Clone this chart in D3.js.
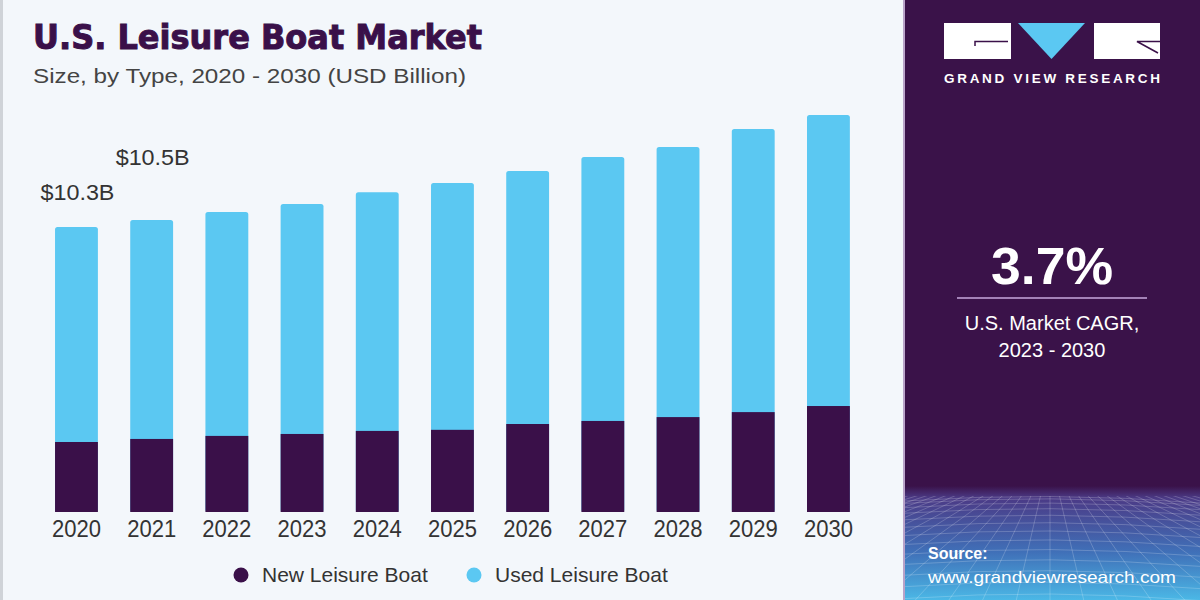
<!DOCTYPE html>
<html>
<head>
<meta charset="utf-8">
<script src="https://cdn.jsdelivr.net/npm/d3@7"></script>
<style>
  html, body { margin: 0; padding: 0; background: #f3f7fb; }
  svg { display: block; font-family: "Liberation Sans", Arial, sans-serif; }
</style>
</head>
<body>
<div id="chart"></div>
<script>
// values (USD billion)
const years = ['2020', '2021', '2022', '2023', '2024', '2025', '2026', '2027', '2028', '2029', '2030'];
const newBoat = [2.53, 2.64, 2.75, 2.82, 2.93, 2.97, 3.18, 3.29, 3.43, 3.61, 3.83];
const usedBoat = [7.77, 7.91, 8.09, 8.31, 8.63, 8.92, 9.14, 9.54, 9.76, 10.23, 10.52];
const seriesNames = ['New Leisure Boat', 'Used Leisure Boat'];
const callouts = [{ year: '2020', text: '$10.3B', lift: 27 }, { year: '2021', text: '$10.5B', lift: 55 }];

const width = 1200, height = 600;
const dark = '#3a1049', light = '#5bc8f2';

const svg = d3.select('#chart').append('svg')
  .attr('width', width)
  .attr('height', height);

svg.append('rect').attr('width', width).attr('height', height).attr('fill', '#f3f7fb');
svg.append('rect').attr('x', 0).attr('y', 0).attr('width', 3).attr('height', height).attr('fill', '#cfd3d8');

// title block
svg.append('text')
  .attr('x', 33).attr('y', 49)
  .attr('font-family', '"DejaVu Sans", sans-serif')
  .attr('font-weight', 'bold')
  .attr('font-size', 33)
  .attr('fill', dark)
  .attr('stroke', dark)
  .attr('stroke-width', 1)
  .attr('textLength', 449)
  .attr('lengthAdjust', 'spacingAndGlyphs')
  .text('U.S. Leisure Boat Market');

svg.append('text')
  .attr('x', 33).attr('y', 83)
  .attr('font-size', 21)
  .attr('fill', '#444')
  .attr('textLength', 433)
  .attr('lengthAdjust', 'spacingAndGlyphs')
  .text('Size, by Type, 2020 - 2030 (USD Billion)');

// scales
const x = d3.scaleBand()
  .domain(years)
  .range([22.7, 882.2])
  .paddingInner(0.43)
  .paddingOuter(0.43);

const y = d3.scaleLinear()
  .domain([0, 15])
  .range([512, 512 - 15 * 27.67]);

const rows = years.map((yr, i) => ({ year: yr, n: newBoat[i], u: usedBoat[i], total: newBoat[i] + usedBoat[i] }));

// used portion (drawn down to baseline, new portion covers it)
svg.append('g').selectAll('rect')
  .data(rows)
  .join('rect')
  .attr('x', d => x(d.year))
  .attr('y', d => y(d.total))
  .attr('width', x.bandwidth())
  .attr('height', d => y(0) - y(d.total))
  .attr('rx', 2.5)
  .attr('fill', light);

svg.append('g').selectAll('rect')
  .data(rows)
  .join('rect')
  .attr('x', d => x(d.year))
  .attr('y', d => y(d.n))
  .attr('width', x.bandwidth())
  .attr('height', d => y(0) - y(d.n))
  .attr('fill', dark);

// callouts
svg.append('g').selectAll('text')
  .data(callouts)
  .join('text')
  .attr('x', d => x(d.year) + x.bandwidth() / 2 + 1)
  .attr('y', d => y(rows.find(r => r.year === d.year).total) - d.lift)
  .attr('text-anchor', 'middle')
  .attr('font-size', 22)
  .attr('fill', '#333')
  .attr('textLength', 74)
  .attr('lengthAdjust', 'spacingAndGlyphs')
  .text(d => d.text);

// x axis
const xAxis = svg.append('g')
  .attr('transform', `translate(0,${y(0)})`)
  .call(d3.axisBottom(x).tickSize(0).tickPadding(8));
xAxis.select('.domain').remove();
xAxis.selectAll('text')
  .attr('font-size', 24)
  .attr('fill', '#333')
  .attr('textLength', 49)
  .attr('lengthAdjust', 'spacingAndGlyphs');

// legend
const legend = svg.append('g').attr('transform', 'translate(0,575)');
const legendX = [241, 474];
seriesNames.forEach((name, i) => {
  legend.append('circle')
    .attr('cx', legendX[i]).attr('cy', 0).attr('r', 7.5)
    .attr('fill', i === 0 ? dark : light);
  legend.append('text')
    .attr('x', legendX[i] + 21).attr('y', 7)
    .attr('font-size', 21)
    .attr('fill', '#333')
    .text(name);
});

// right panel
const panelX = 905;
const defs = svg.append('defs');
const grad = defs.append('linearGradient')
  .attr('id', 'panelGrad').attr('x1', 0).attr('y1', 0).attr('x2', 0).attr('y2', 1);
grad.append('stop').attr('offset', '0%').attr('stop-color', '#3a1249');
grad.append('stop').attr('offset', '81%').attr('stop-color', '#3a1249');
grad.append('stop').attr('offset', '83%').attr('stop-color', '#4b3a86');
grad.append('stop').attr('offset', '92%').attr('stop-color', '#4070b8');
grad.append('stop').attr('offset', '100%').attr('stop-color', '#4bb8e6');

svg.append('rect')
  .attr('x', panelX).attr('y', 0)
  .attr('width', width - panelX).attr('height', height)
  .attr('fill', 'url(#panelGrad)');
svg.append('rect')
  .attr('x', panelX - 2).attr('y', 0).attr('width', 2).attr('height', height)
  .attr('fill', '#b9a3c9');

// perspective grid in the lower part of the panel
defs.append('clipPath').attr('id', 'gridClip')
  .append('rect').attr('x', panelX).attr('y', 496).attr('width', width - panelX).attr('height', 104);
const grid = svg.append('g').attr('clip-path', 'url(#gridClip)')
  .attr('stroke', '#ffffff').attr('stroke-opacity', 0.25).attr('stroke-width', 0.8).attr('fill', 'none');
d3.range(0, 14).forEach(k => {
  const gy = 497 + Math.pow(k / 13, 1.5) * 110;
  grid.append('path').attr('d', `M${panelX},${gy + 4} Q1050,${gy - 6} ${width},${gy + 6}`);
});
d3.range(-24, 25).forEach(k => {
  grid.append('line')
    .attr('x1', 1050 + k * 7).attr('y1', 485)
    .attr('x2', 1050 + k * 36).attr('y2', 610);
});

// logo
const logo = svg.append('g');
logo.append('rect').attr('x', 944).attr('y', 23).attr('width', 67).attr('height', 36).attr('fill', '#ffffff');
logo.append('path').attr('d', 'M975,46 L975,41.5 L1008,41.5').attr('stroke', dark).attr('stroke-width', 1.5).attr('fill', 'none');
logo.append('path').attr('d', 'M1018,23 L1085,23 L1051.5,59 Z').attr('fill', light);
logo.append('rect').attr('x', 1094).attr('y', 23).attr('width', 66).attr('height', 36).attr('fill', '#ffffff');
logo.append('path').attr('d', 'M1160,41.5 L1137,41.5 L1158,53').attr('stroke', dark).attr('stroke-width', 1.5).attr('fill', 'none');
logo.append('text')
  .attr('x', 944).attr('y', 83)
  .attr('font-size', 13.5).attr('font-weight', 'bold')
  .attr('fill', '#ffffff')
  .attr('textLength', 216)
  .attr('lengthAdjust', 'spacing')
  .text('GRAND VIEW RESEARCH');

// CAGR block
svg.append('text')
  .attr('x', 1052).attr('y', 284)
  .attr('text-anchor', 'middle')
  .attr('font-size', 52).attr('font-weight', 'bold')
  .attr('fill', '#ffffff')
  .attr('textLength', 122)
  .attr('lengthAdjust', 'spacingAndGlyphs')
  .text('3.7%');
svg.append('line')
  .attr('x1', 957).attr('x2', 1147).attr('y1', 298).attr('y2', 298)
  .attr('stroke', '#c7a9dd').attr('stroke-width', 1.5);
svg.append('text')
  .attr('x', 1052).attr('y', 330)
  .attr('text-anchor', 'middle')
  .attr('font-size', 20)
  .attr('fill', '#ffffff')
  .text('U.S. Market CAGR,');
svg.append('text')
  .attr('x', 1052).attr('y', 357)
  .attr('text-anchor', 'middle')
  .attr('font-size', 20)
  .attr('fill', '#ffffff')
  .text('2023 - 2030');

// source
svg.append('text')
  .attr('x', 928).attr('y', 559)
  .attr('font-size', 16).attr('font-weight', 'bold')
  .attr('fill', '#ffffff')
  .text('Source:');
svg.append('text')
  .attr('x', 928).attr('y', 583)
  .attr('font-size', 16.5)
  .attr('fill', '#ffffff')
  .attr('textLength', 248)
  .attr('lengthAdjust', 'spacingAndGlyphs')
  .text('www.grandviewresearch.com');
</script>
</body>
</html>
